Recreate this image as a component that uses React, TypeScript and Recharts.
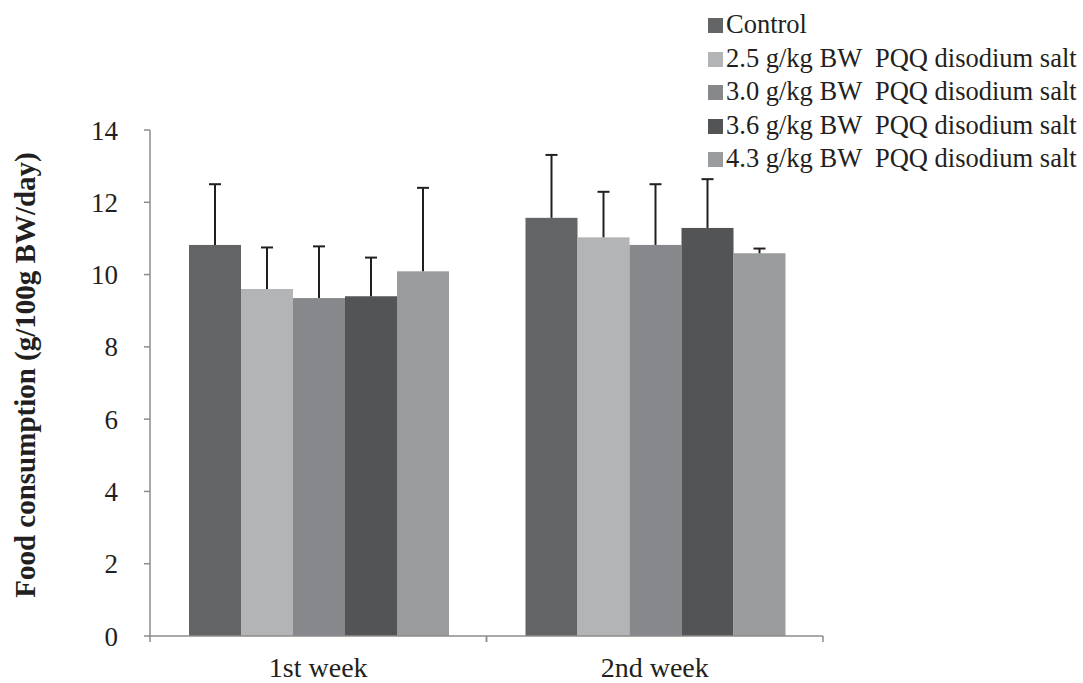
import React from "react"
import { BarChart, Bar, XAxis, YAxis } from "recharts"

const categories = ["1st week", "2nd week"]
const seriesNames = [
  "Control",
  "2.5 g/kg BW  PQQ disodium salt",
  "3.0 g/kg BW  PQQ disodium salt",
  "3.6 g/kg BW  PQQ disodium salt",
  "4.3 g/kg BW  PQQ disodium salt",
]
const seriesKeys = ["control", "d25", "d30", "d36", "d43"]
const colors = ["#636466", "#b3b4b6", "#87888b", "#535456", "#9a9b9d"]

const control = [10.82, 11.57]
const d25 = [9.6, 11.03]
const d30 = [9.35, 10.82]
const d36 = [9.4, 11.29]
const d43 = [10.09, 10.59]

const controlErr = [1.68, 1.74]
const d25Err = [1.15, 1.26]
const d30Err = [1.43, 1.68]
const d36Err = [1.07, 1.35]
const d43Err = [2.31, 0.13]

const yTicks = [0, 2, 4, 6, 8, 10, 12, 14]

const values = [control, d25, d30, d36, d43]
const errors = [controlErr, d25Err, d30Err, d36Err, d43Err]

const data = categories.map((name, i) => {
  const row: Record<string, string | number> = { name }
  seriesKeys.forEach((k, j) => {
    row[k] = values[j][i]
    row[k + "Err"] = errors[j][i]
  })
  return row
})

const FONT = "'Liberation Serif', 'Times New Roman', serif"
const TEXT = "#231f20"
const AXIS = "#8c8c8c"

// bar + upward-only error bar with cap
const makeShape = (key: string) => (props: any) => {
  const { x, y, width, height, fill, payload } = props
  const v = Number(payload[key])
  const e = Number(payload[key + "Err"])
  const k = v ? height / v : 0
  const top = y - e * k
  const cx = x + width / 2
  return (
    <g>
      <rect x={x} y={y} width={width} height={height} fill={fill} />
      <line x1={cx} y1={y} x2={cx} y2={top} stroke={TEXT} strokeWidth={2} />
      <line x1={cx - 6} y1={top} x2={cx + 6} y2={top} stroke={TEXT} strokeWidth={2} />
    </g>
  )
}

const TICK_SIZE = 6
const TICK_MARGIN = 15

const CategoryTick = (props: any) => {
  const { x, y, payload } = props
  const axisY = y - TICK_SIZE - TICK_MARGIN
  const half = payload.offset ?? 0
  return (
    <g>
      <line x1={x - half} y1={axisY} x2={x - half} y2={axisY + TICK_SIZE} stroke={AXIS} strokeWidth={1.5} />
      <line x1={x + half} y1={axisY} x2={x + half} y2={axisY + TICK_SIZE} stroke={AXIS} strokeWidth={1.5} />
      <text x={x} y={y} dy="0.71em" textAnchor="middle" fontSize={28} style={{ fontFamily: FONT }} fill={TEXT}>
        {payload.value}
      </text>
    </g>
  )
}

export default function App() {
  return (
    <div style={{ position: "absolute", left: 0, top: 0, width: 1083, height: 683, background: "#fff", fontFamily: FONT }}>
      <BarChart
        width={1083}
        height={683}
        data={data}
        margin={{ top: 130, right: 260, left: 0, bottom: 0 }}
        barCategoryGap={39}
        barGap={0}
        style={{ fontFamily: FONT }}
      >
        <XAxis
          dataKey="name"
          height={47}
          axisLine={{ stroke: AXIS, strokeWidth: 1.5 }}
          tickLine={false}
          tickSize={TICK_SIZE}
          tickMargin={TICK_MARGIN}
          tick={<CategoryTick />}
          interval={0}
        />
        <YAxis
          width={150}
          domain={[0, 14]}
          ticks={yTicks}
          interval={0}
          axisLine={{ stroke: AXIS, strokeWidth: 1.5 }}
          tickLine={{ stroke: AXIS, strokeWidth: 1.5 }}
          tickSize={6}
          tickMargin={26}
          tick={{ fontSize: 27, fontFamily: FONT, fill: TEXT }}
        />
        {seriesKeys.map((k, i) => (
          <Bar
            key={k}
            dataKey={k}
            name={seriesNames[i]}
            fill={colors[i]}
            shape={makeShape(k)}
            isAnimationActive={false}
          />
        ))}
      </BarChart>

      <div
        style={{
          position: "absolute",
          left: 25,
          top: 375,
          transform: "translate(-50%, -50%) rotate(-90deg)",
          whiteSpace: "nowrap",
          fontSize: 29,
          fontWeight: "bold",
          color: TEXT,
        }}
      >
        Food consumption (g/100g BW/day)
      </div>

      <div style={{ position: "absolute", left: 708, top: 8, fontSize: 26.5, lineHeight: "33.5px", color: TEXT }}>
        {seriesNames.map((n, i) => (
          <div key={n} style={{ whiteSpace: "pre" }}>
            <span
              style={{
                display: "inline-block",
                width: 15,
                height: 15,
                background: colors[i],
                marginRight: 3,
                verticalAlign: "baseline",
              }}
            />
            {n}
          </div>
        ))}
      </div>
    </div>
  )
}
